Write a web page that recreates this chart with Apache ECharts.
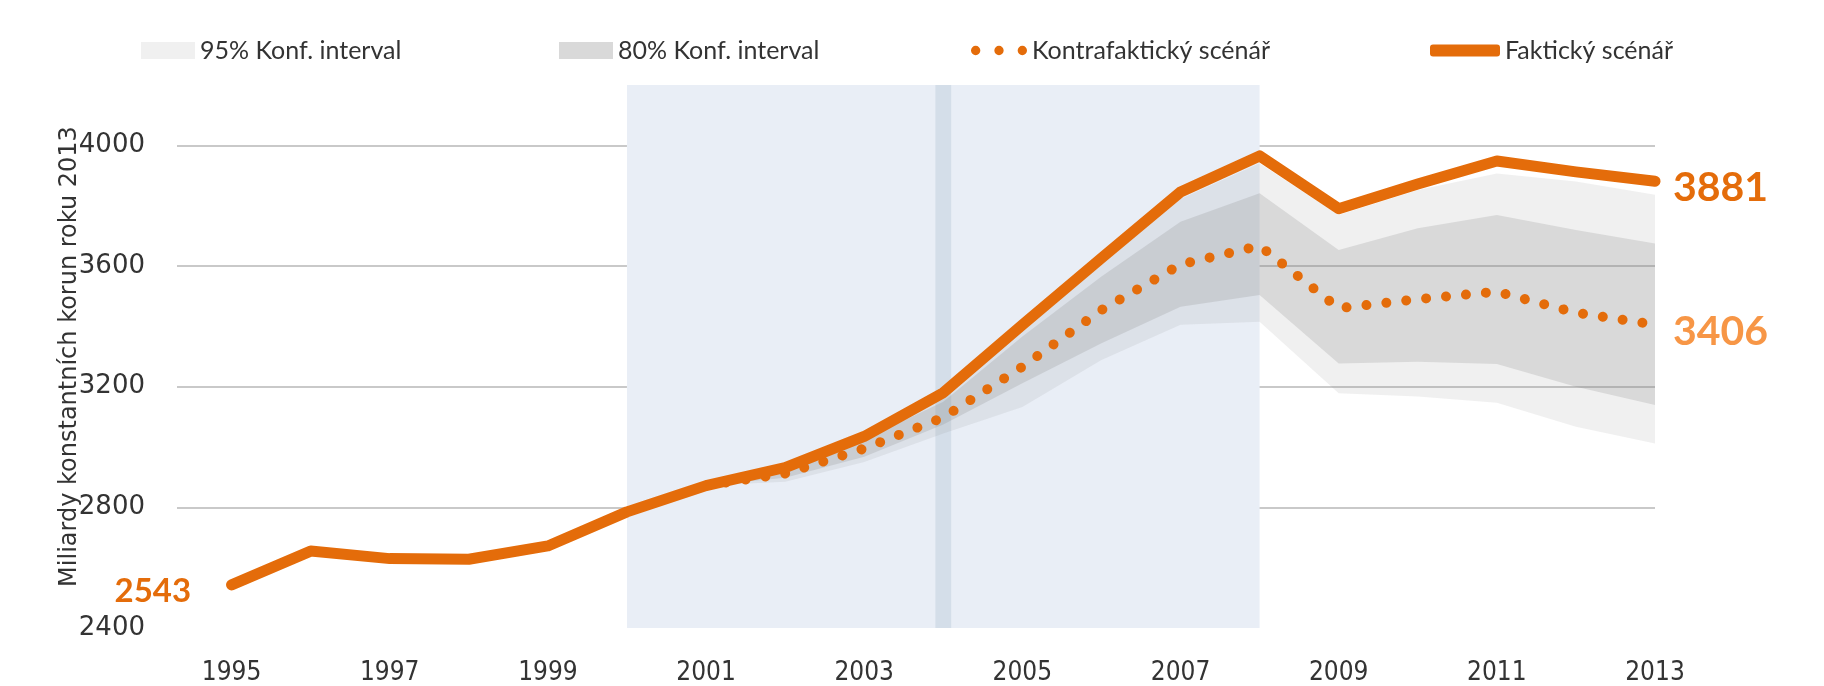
<!DOCTYPE html>
<html>
<head>
<meta charset="utf-8">
<script src="https://cdn.jsdelivr.net/npm/echarts@6/dist/echarts.min.js"></script>
<style>
  html, body { margin: 0; padding: 0; background: #fff; }
  #main { width: 1824px; height: 686px; }
</style>
</head>
<body>
<div id="main"></div>
<script>
// skutečný vývoj 1995-2013
const years = [1995, 1996, 1997, 1998, 1999, 2000, 2001, 2002, 2003, 2004, 2005, 2006, 2007, 2008, 2009, 2010, 2011, 2012, 2013]
const actual = [2543, 2655, 2630, 2628, 2672, 2785, 2872, 2932, 3035, 3180, 3405, 3626, 3845, 3965, 3790, 3872, 3948, 3912, 3881]

// kontrafaktický scénář a intervaly od roku 2001
const cfYears = [2001, 2002, 2003, 2004, 2005, 2006, 2007, 2008, 2009, 2010, 2011, 2012, 2013]
const counterfactual = [2872, 2912, 2995, 3098, 3266, 3454, 3605, 3667, 3460, 3490, 3515, 3445, 3406]
const ci80Low = [2872, 2898, 2968, 3075, 3211, 3344, 3465, 3504, 3277, 3283, 3275, 3200, 3139]
const ci80High = [2872, 2925, 3025, 3150, 3366, 3565, 3747, 3841, 3653, 3725, 3769, 3719, 3675]
const ci95Low = [2872, 2885, 2950, 3045, 3133, 3288, 3405, 3415, 3178, 3167, 3147, 3067, 3012]
const ci95High = [2872, 2930, 3032, 3172, 3394, 3603, 3822, 3941, 3769, 3852, 3907, 3880, 3836]

const xTicks = [1995, 1997, 1999, 2001, 2003, 2005, 2007, 2009, 2011, 2013]
const yTicks = [2400, 2800, 3200, 3600, 4000]
const gridLines = [2800, 3200, 3600, 4000]

const orange = '#e46c0a'
const lightOrange = '#f79646'

function pairs(xs, ys) {
  return xs.map((x, i) => [x, ys[i]])
}
function band(xs, lo, hi) {
  return xs.map((x, i) => [x, lo[i], hi[i]])
}

// pás mezi dolní a horní mezí jako jeden polygon
function bandRenderer(fill) {
  return function (params, api) {
    if (params.dataIndexInside !== 0) return null
    const n = params.dataInsideLength
    const upper = []
    const lower = []
    for (let i = 0; i < n; i++) {
      upper.push(api.coord([api.value(0, i), api.value(2, i)]))
      lower.unshift(api.coord([api.value(0, i), api.value(1, i)]))
    }
    return { type: 'polygon', shape: { points: upper.concat(lower) }, style: { fill: fill } }
  }
}

const chart = echarts.init(document.getElementById('main'))

const legendText = { fontFamily: 'Lato', fontSize: 25, color: '#333' }
const dots = 'path://M0,5a5,5 0 1,0 10,0a5,5 0 1,0 -10,0M25,5a5,5 0 1,0 10,0a5,5 0 1,0 -10,0M50,5a5,5 0 1,0 10,0a5,5 0 1,0 -10,0'

const option = {
  animation: false,
  grid: { left: 177, right: 169, top: 85, bottom: 58 },
  legend: [
    { left: 136, top: 33, itemWidth: 54, itemHeight: 17, textStyle: legendText,
      data: [{ name: '95% Konf. interval', icon: 'rect', itemStyle: { color: '#f0f0f0' } }] },
    { left: 554, top: 33, itemWidth: 54, itemHeight: 17, textStyle: legendText,
      data: [{ name: '80% Konf. interval', icon: 'rect', itemStyle: { color: '#d9d9d9' } }] },
    { left: 966, top: 33, itemWidth: 56, itemHeight: 10, textStyle: legendText,
      data: [{ name: 'Kontrafaktický scénář', icon: dots }] },
    { left: 1425, top: 33, itemWidth: 70, itemHeight: 12, textStyle: legendText,
      data: [{ name: 'Faktický scénář', icon: 'roundRect' }] }
  ],
  xAxis: {
    type: 'value',
    min: 1994.31,
    max: 2013,
    axisLine: { show: false },
    axisTick: { show: false, customValues: xTicks },
    splitLine: { show: false },
    axisLabel: {
      customValues: xTicks,
      margin: 32,
      fontFamily: "'Liberation Sans Narrow', 'DejaVu Sans Condensed', 'Roboto Condensed', 'Liberation Sans', sans-serif",
      fontSize: 26,
      color: '#333',
      formatter: v => String(v)
    }
  },
  yAxis: {
    type: 'value',
    min: 2400,
    max: 4200,
    name: 'Miliardy konstantních korun roku 2013',
    nameLocation: 'middle',
    nameGap: 95,
    nameMoveOverlap: false,
    nameTextStyle: { fontFamily: 'DejaVu Sans', fontSize: 24, color: '#333' },
    axisLine: { show: false },
    axisTick: { show: false, customValues: gridLines },
    splitLine: { show: true, lineStyle: { color: '#c9c9c9', width: 2 } },
    axisLabel: {
      customValues: yTicks,
      margin: 32,
      fontFamily: 'DejaVu Sans',
      fontSize: 26,
      color: '#333',
      formatter: v => String(v)
    }
  },
  series: [
    {
      // zvýrazněná období
      type: 'line',
      name: 'pozadi',
      data: [],
      silent: true,
      z: 0,
      markArea: {
        silent: true,
        data: [
          [{ xAxis: 2000, itemStyle: { color: '#e9eef6' } }, { xAxis: 2008 }],
          [{ xAxis: 2003.9, itemStyle: { color: '#d4dee9' } }, { xAxis: 2004.1 }]
        ]
      }
    },
    {
      type: 'custom',
      name: '95% Konf. interval',
      data: band(cfYears, ci95Low, ci95High),
      encode: { x: 0, y: [1, 2] },
      renderItem: bandRenderer('rgba(128,128,128,0.12)'),
      itemStyle: { color: '#f0f0f0' },
      silent: true,
      z: 2
    },
    {
      type: 'custom',
      name: '80% Konf. interval',
      data: band(cfYears, ci80Low, ci80High),
      encode: { x: 0, y: [1, 2] },
      renderItem: bandRenderer('rgba(128,128,128,0.205)'),
      itemStyle: { color: '#d9d9d9' },
      silent: true,
      z: 2
    },
    {
      type: 'line',
      name: 'Kontrafaktický scénář',
      data: pairs(cfYears, counterfactual),
      symbol: 'none',
      itemStyle: { color: orange },
      lineStyle: { color: orange, width: 10, type: [0.01, 20], cap: 'round' },
      endLabel: {
        show: true,
        formatter: p => p.value[1],
        color: lightOrange,
        fontFamily: 'Lato',
        fontWeight: 'bold',
        fontSize: 41,
        distance: 18,
        offset: [0, 7]
      },
      z: 3
    },
    {
      type: 'line',
      name: 'Faktický scénář',
      data: pairs(years, actual).map((d, i) => i === 0
        ? { value: d, label: { show: true, position: 'left', distance: 40, offset: [0, 6], formatter: p => p.value[1], color: orange, fontFamily: 'Lato', fontWeight: 'bold', fontSize: 33 } }
        : d),
      symbol: 'circle',
      symbolSize: 1,
      showSymbol: true,
      itemStyle: { color: orange },
      lineStyle: { color: orange, width: 11, cap: 'round', join: 'round' },
      endLabel: {
        show: true,
        formatter: p => p.value[1],
        color: orange,
        fontFamily: 'Lato',
        fontWeight: 'bold',
        fontSize: 41,
        distance: 18,
        offset: [0, 7]
      },
      z: 4
    }
  ]
}

chart.setOption(option)
</script>
</body>
</html>
